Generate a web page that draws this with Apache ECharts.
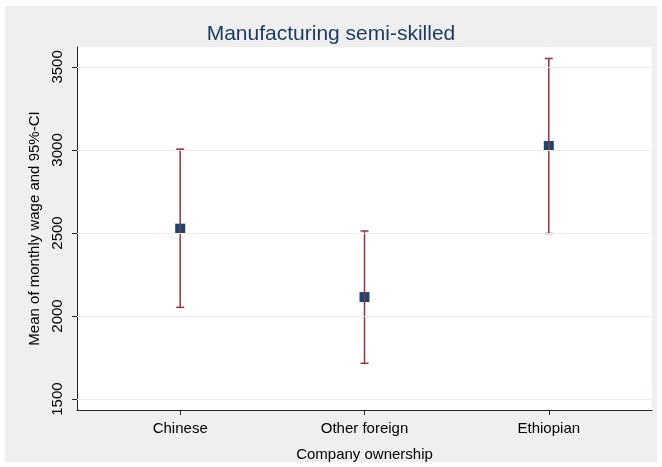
<!DOCTYPE html>
<html>
<head>
<meta charset="utf-8">
<script src="https://cdn.jsdelivr.net/npm/echarts@6/dist/echarts.min.js"></script>
<style>
  html, body { margin: 0; padding: 0; background: #ffffff; }
  #bg { position: absolute; left: 5px; top: 6px; width: 652px; height: 456px; background: #efefef; }
  #chart { position: absolute; left: 0; top: 0; width: 662px; height: 467px; }
</style>
</head>
<body>
<div id="bg"></div>
<div id="chart"></div>
<script>
const titleText = 'Manufacturing semi-skilled';
const categories = ['Chinese', 'Other foreign', 'Ethiopian'];
const categoryPositions = [1, 2, 3];
const means = [2526, 2114, 3024];
const ciLower = [2052, 1715, 2497];
const ciUpper = [3005, 2512, 3551];
const yTicks = [1500, 2000, 2500, 3000, 3500];
const xAxisName = 'Company ownership';
const yAxisName = 'Mean of monthly wage and 95%-CI';

const font = 'Liberation Sans, Arial, sans-serif';
const chart = echarts.init(document.getElementById('chart'), null, { renderer: 'canvas' });

const meanData = categoryPositions.map((x, i) => [x, means[i]]);
const ciData = categoryPositions.map((x, i) => [x, ciLower[i], ciUpper[i]]);

chart.setOption({
  backgroundColor: 'transparent',
  animation: false,
  title: {
    text: titleText,
    left: 'center',
    top: 19,
    textStyle: { color: '#1a3a5f', fontFamily: font, fontSize: 21, fontWeight: 'normal' }
  },
  grid: {
    left: 77, right: 10, top: 47, bottom: 55,
    show: true, backgroundColor: '#ffffff', borderWidth: 0
  },
  xAxis: {
    type: 'value',
    min: 0.44, max: 3.56,
    name: xAxisName,
    nameLocation: 'middle',
    nameGap: 37,
    nameTextStyle: { color: '#000', fontFamily: font, fontSize: 15 },
    axisLine: { show: true, lineStyle: { color: '#222', width: 1 } },
    axisTick: { show: true, length: 5, customValues: categoryPositions, lineStyle: { color: '#222' } },
    axisLabel: {
      customValues: categoryPositions,
      formatter: v => categories[categoryPositions.indexOf(Math.round(v))] || '',
      color: '#000', fontFamily: font, fontSize: 15, margin: 11
    },
    splitLine: { show: false }
  },
  yAxis: {
    type: 'value',
    min: 1434, max: 3620,
    name: yAxisName,
    nameLocation: 'middle',
    nameGap: 34,
    nameTextStyle: { color: '#000', fontFamily: font, fontSize: 15 },
    axisLine: { show: true, lineStyle: { color: '#222', width: 1 } },
    axisTick: { show: true, length: 5, customValues: yTicks, lineStyle: { color: '#222' } },
    axisLabel: {
      customValues: yTicks,
      rotate: 90,
      formatter: v => String(v),
      color: '#000', fontFamily: font, fontSize: 15, margin: 12
    },
    splitLine: { show: false }
  },
  series: [
    {
      type: 'line',
      data: [],
      z: 1,
      silent: true,
      markLine: {
        silent: true,
        symbol: 'none',
        label: { show: false },
        lineStyle: { color: '#e6eeef', width: 1, type: 'solid' },
        data: yTicks.map(v => ({ yAxis: v }))
      }
    },
    {
      type: 'scatter',
      data: meanData,
      symbol: 'rect',
      symbolSize: 10,
      itemStyle: { color: '#1a476f', opacity: 1 },
      z: 3
    },
    {
      type: 'custom',
      data: ciData,
      z: 4,
      renderItem: function (params, api) {
        const x = api.value(0);
        const lo = api.coord([x, api.value(1)]);
        const hi = api.coord([x, api.value(2)]);
        const hw = 4;
        const style = { stroke: '#90353b', lineWidth: 1.5 };
        return {
          type: 'group',
          children: [
            { type: 'line', shape: { x1: lo[0], y1: lo[1], x2: hi[0], y2: hi[1] }, style: style },
            { type: 'line', shape: { x1: lo[0] - hw, y1: lo[1], x2: lo[0] + hw, y2: lo[1] }, style: style },
            { type: 'line', shape: { x1: hi[0] - hw, y1: hi[1], x2: hi[0] + hw, y2: hi[1] }, style: style }
          ]
        };
      }
    }
  ]
});
</script>
</body>
</html>
